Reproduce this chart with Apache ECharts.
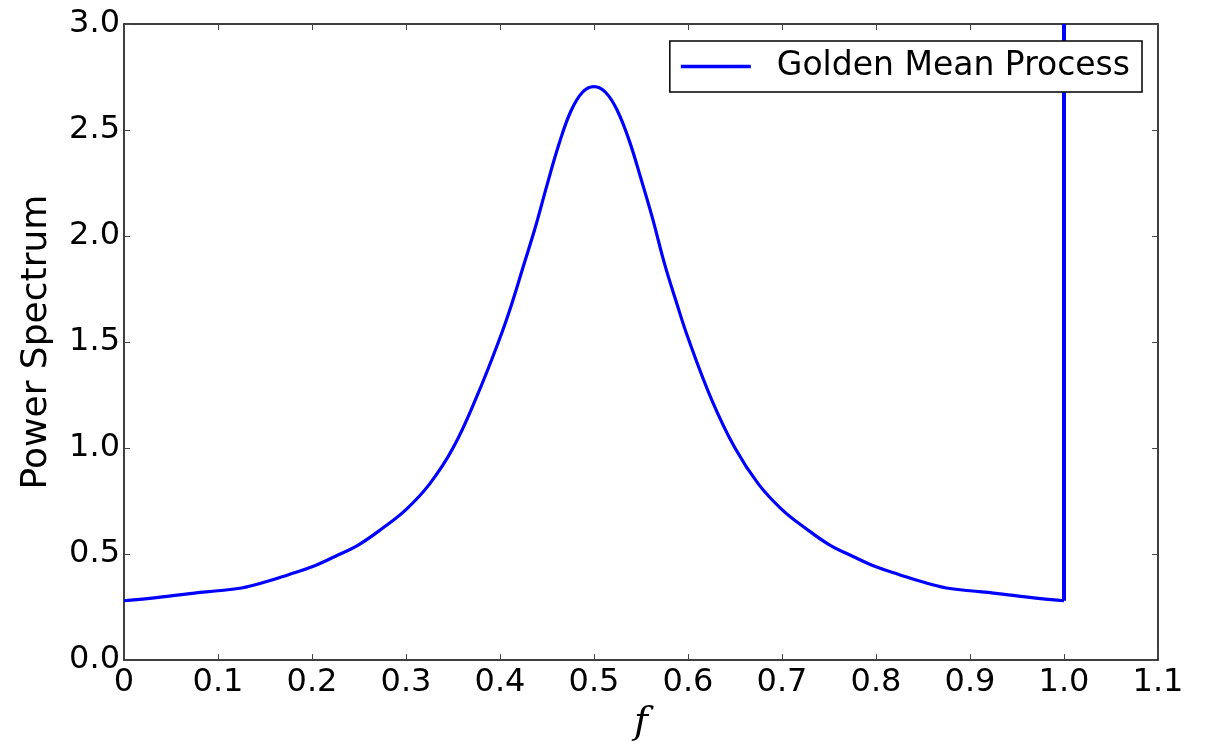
<!DOCTYPE html>
<html>
<head>
<meta charset="utf-8">
<script src="https://cdn.jsdelivr.net/npm/echarts@6/dist/echarts.min.js"></script>
<style>
html,body{margin:0;padding:0;background:#fff;}
#chart{width:1215px;height:747px;}
</style>
</head>
<body>
<div id="chart"></div>
<script>
// Frequency samples and power spectrum values
const freq = [0, 0.025, 0.05, 0.075, 0.1, 0.125, 0.15, 0.175, 0.2, 0.225, 0.25, 0.275, 0.3, 0.325, 0.35, 0.375,
  0.4, 0.4125, 0.425, 0.4375, 0.45, 0.4625, 0.475, 0.4875, 0.5, 0.5125, 0.525, 0.5375, 0.55, 0.5625, 0.575, 0.5875, 0.6,
  0.625, 0.65, 0.675, 0.7, 0.725, 0.75, 0.775, 0.8, 0.825, 0.85, 0.875, 0.9, 0.925, 0.95, 0.975, 1.0];
const power = [0.28, 0.29, 0.303, 0.316, 0.327, 0.340, 0.368, 0.403, 0.44, 0.49, 0.545, 0.622, 0.71, 0.83, 1.00, 1.24,
  1.52, 1.68, 1.86, 2.04, 2.24, 2.43, 2.585, 2.677, 2.705, 2.677, 2.59, 2.45, 2.27, 2.08, 1.87, 1.69, 1.52,
  1.23, 1.00, 0.83, 0.71, 0.622, 0.545, 0.49, 0.44, 0.403, 0.368, 0.340, 0.327, 0.316, 0.303, 0.29, 0.28];
// Delta spike at f = 1.0 (runs off the top of the plot)
const spikeFreq = [1.0, 1.0];
const spikePower = [0.28, 3.0];

const seriesName = 'Golden Mean Process';
const xTickLabels = ['0', '0.1', '0.2', '0.3', '0.4', '0.5', '0.6', '0.7', '0.8', '0.9', '1.0', '1.1'];
const yTickLabels = ['0.0', '0.5', '1.0', '1.5', '2.0', '2.5', '3.0'];

const curveData = freq.map((f, i) => [f, power[i]]);
const spikeData = spikeFreq.map((f, i) => [f, spikePower[i]]);

const FONT = 'DejaVu Sans';
const chart = echarts.init(document.getElementById('chart'), null, {renderer: 'canvas'});

const axisLine = {show: true, onZero: false, lineStyle: {color: '#000', width: 1.5}};
const axisTick = {show: true, inside: true, length: 6, lineStyle: {color: '#444', width: 1}};

chart.setOption({
  animation: false,
  backgroundColor: '#fff',
  grid: {left: 124, right: 57, top: 24, bottom: 83, containLabel: false},
  legend: {
    show: true,
    data: [seriesName],
    right: 73,
    top: 41,
    icon: 'rect',
    itemWidth: 70,
    itemHeight: 3.5,
    padding: [9, 12, 9, 11],
    borderColor: '#000',
    borderWidth: 1.5,
    borderRadius: 0,
    backgroundColor: '#fff',
    textStyle: {fontFamily: FONT, fontSize: 33, color: '#000', padding: [0, 0, 0, 21]}
  },
  xAxis: [{
    type: 'value', min: 0, max: 1.1, interval: 0.1,
    name: 'f', nameLocation: 'middle', nameGap: 40,
    nameTextStyle: {fontFamily: 'DejaVu Serif', fontStyle: 'italic', fontSize: 38, color: '#000'},
    axisLine: axisLine, axisTick: axisTick, splitLine: {show: false},
    axisLabel: {
      margin: 7, fontFamily: FONT, fontSize: 32, color: '#000',
      formatter: v => xTickLabels[Math.round(v * 10)]
    }
  }, {
    type: 'value', position: 'top', min: 0, max: 1.1, interval: 0.1,
    axisLine: axisLine, axisTick: axisTick, splitLine: {show: false},
    axisLabel: {show: false}
  }],
  yAxis: [{
    type: 'value', min: 0, max: 3, interval: 0.5,
    name: 'Power Spectrum', nameLocation: 'middle', nameGap: 69, nameRotate: 90,
    nameTextStyle: {fontFamily: FONT, fontSize: 36, color: '#000'},
    axisLine: axisLine, axisTick: axisTick, splitLine: {show: false},
    axisLabel: {
      margin: 4, fontFamily: FONT, fontSize: 32, color: '#000',
      formatter: v => yTickLabels[Math.round(v * 2)]
    }
  }, {
    type: 'value', position: 'right', min: 0, max: 3, interval: 0.5,
    axisLine: axisLine, axisTick: axisTick, splitLine: {show: false},
    axisLabel: {show: false}
  }],
  series: [{
    name: seriesName,
    type: 'line',
    xAxisIndex: 0, yAxisIndex: 0,
    data: curveData,
    smooth: 0.4,
    showSymbol: false,
    symbol: 'none',
    clip: true,
    lineStyle: {color: '#0000ff', width: 3.2},
    itemStyle: {color: '#0000ff'}
  }, {
    name: seriesName,
    type: 'line',
    xAxisIndex: 0, yAxisIndex: 0,
    data: spikeData,
    smooth: false,
    showSymbol: false,
    symbol: 'none',
    clip: true,
    lineStyle: {color: '#0000ff', width: 4},
    itemStyle: {color: '#0000ff'}
  }]
});
</script>
</body>
</html>
